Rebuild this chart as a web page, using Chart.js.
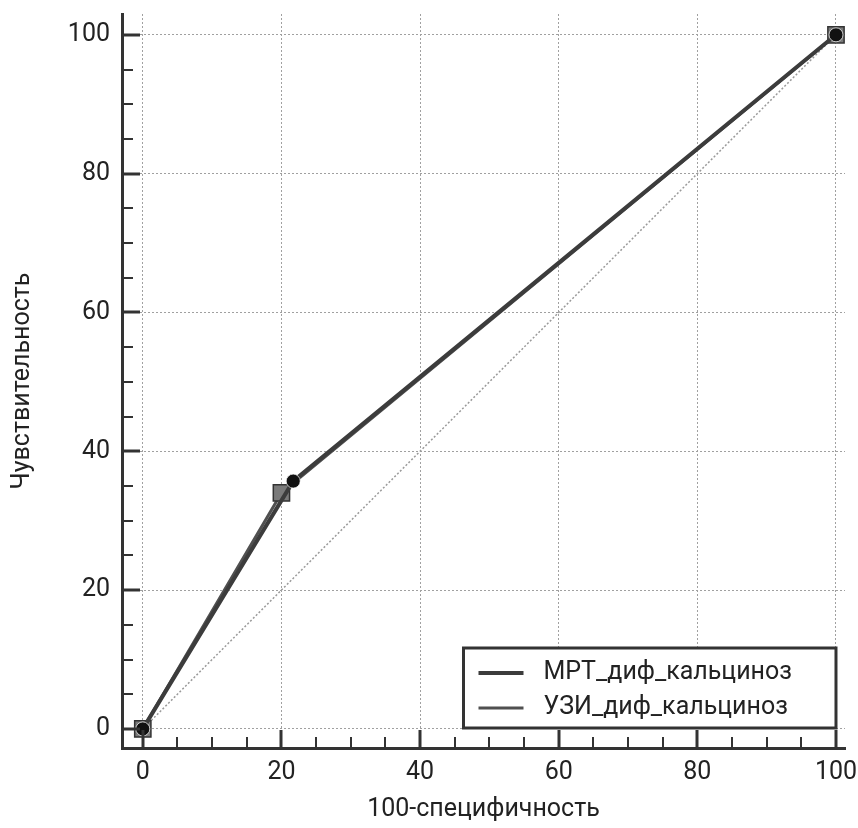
<!DOCTYPE html>
<html>
<head>
<meta charset="utf-8">
<script src="https://cdn.jsdelivr.net/npm/chart.js@4"></script>
<style>
  html, body { margin: 0; padding: 0; background: #ffffff; }
  #wrap { width: 858px; height: 828px; }
</style>
</head>
<body>
<div id="wrap"><canvas id="roc" width="858" height="828"></canvas></div>
<script>
// ROC curves: 100-specificity (x) vs sensitivity (y), in percent
const seriesNames = ['МРТ_диф_кальциноз', 'УЗИ_диф_кальциноз'];
const mrtFpr  = [0, 21.7, 100];
const mrtSens = [0, 35.7, 100];
const uziFpr  = [0, 20, 100];
const uziSens = [0, 34, 100];
const diagFpr  = [0, 100];
const diagSens = [0, 100];
const axisTicks = [0, 20, 40, 60, 80, 100];
const xTitle = '100-специфичность';
const yTitle = 'Чувствительность';

const FONT = 'Roboto';
const TEXT = '#222222';
const AXIS = '#333333';

const toPoints = (xs, ys) => xs.map((x, i) => ({ x: x, y: ys[i] }));

// Inward tick marks along both axes (major every 20, minor every 5)
const innerTicks = {
  id: 'innerTicks',
  afterDraw(chart) {
    const { ctx, chartArea, scales } = chart;
    ctx.save();
    ctx.strokeStyle = AXIS;
    for (let v = 0; v <= 100; v += 5) {
      const major = v % 20 === 0;
      ctx.lineWidth = major ? 3 : 2;
      const len = major ? 18 : 11;
      const px = Math.round(scales.x.getPixelForValue(v));
      ctx.beginPath();
      ctx.moveTo(px, chartArea.bottom);
      ctx.lineTo(px, chartArea.bottom - len);
      ctx.stroke();
      const py = Math.round(scales.y.getPixelForValue(v));
      ctx.beginPath();
      ctx.moveTo(chartArea.left, py);
      ctx.lineTo(chartArea.left + len, py);
      ctx.stroke();
    }
    ctx.restore();
  }
};

// Boxed legend in the lower-right corner of the plot
const boxLegend = {
  id: 'boxLegend',
  afterDraw(chart) {
    const { ctx, chartArea, scales } = chart;
    const items = chart.data.datasets.filter(d => d.inLegend);
    ctx.save();
    ctx.font = '25px ' + FONT;
    const textW = Math.max(...items.map(d => ctx.measureText(d.label).width));
    const padL = 15, lineLen = 45, gap = 20, padR = 44, rowH = 35;
    const w = padL + lineLen + gap + textW + padR;
    const h = 80;
    const right = scales.x.getPixelForValue(100);
    const bottom = chartArea.bottom - 20;
    const left = right - w, top = bottom - h;
    ctx.fillStyle = '#ffffff';
    ctx.fillRect(left, top, w, h);
    ctx.lineWidth = 3;
    ctx.strokeStyle = AXIS;
    ctx.strokeRect(left, top, w, h);
    items.forEach((d, i) => {
      const cy = top + 25 + i * rowH;
      ctx.strokeStyle = d.borderColor;
      ctx.lineWidth = d.legendWidth;
      ctx.beginPath();
      ctx.moveTo(left + padL, cy);
      ctx.lineTo(left + padL + lineLen, cy);
      ctx.stroke();
      ctx.fillStyle = TEXT;
      ctx.textBaseline = 'middle';
      ctx.textAlign = 'left';
      ctx.fillText(d.label, left + padL + lineLen + gap, cy);
    });
    ctx.restore();
  }
};

new Chart(document.getElementById('roc'), {
  type: 'scatter',
  data: {
    datasets: [
      {
        label: seriesNames[0],
        inLegend: true,
        legendWidth: 4,
        data: toPoints(mrtFpr, mrtSens),
        showLine: true,
        borderColor: '#3c3c3c',
        borderWidth: 4,
        pointStyle: 'circle',
        pointRadius: 7,
        pointBackgroundColor: '#111111',
        pointBorderColor: 'rgba(255,255,255,0.7)',
        pointBorderWidth: 1,
        order: 1
      },
      {
        label: seriesNames[1],
        inLegend: true,
        legendWidth: 3,
        data: toPoints(uziFpr, uziSens),
        showLine: true,
        borderColor: '#505050',
        borderWidth: 3,
        pointStyle: 'rect',
        pointRadius: 11.5,
        pointBackgroundColor: '#7a7a7a',
        pointBorderColor: '#333333',
        pointBorderWidth: 1.5,
        order: 2
      },
      {
        label: 'diag',
        inLegend: false,
        data: toPoints(diagFpr, diagSens),
        showLine: true,
        borderColor: '#9a9a9a',
        borderWidth: 1.5,
        borderDash: [2, 2],
        pointRadius: 0,
        order: 3
      }
    ]
  },
  options: {
    responsive: false,
    animation: false,
    devicePixelRatio: 1,
    layout: { padding: { top: 14, right: 2, left: 0, bottom: 0 } },
    plugins: {
      legend: { display: false },
      tooltip: { enabled: false }
    },
    scales: {
      x: {
        type: 'linear',
        min: -3,
        max: 101.3,
        afterBuildTicks: s => { s.ticks = axisTicks.map(v => ({ value: v })); },
        afterFit: s => { s.height = 80; s.paddingLeft = 0; s.paddingRight = 0; },
        grid: { color: '#a0a0a0', lineWidth: 1, drawTicks: false },
        border: { display: true, color: AXIS, width: 3, dash: [2, 2] },
        ticks: { color: TEXT, font: { family: FONT, size: 25 }, padding: 10, maxRotation: 0 },
        title: {
          display: true, text: xTitle, color: TEXT,
          font: { family: FONT, size: 25, lineHeight: 1.2 },
          padding: { top: 0, bottom: 3 }
        }
      },
      y: {
        type: 'linear',
        min: -2.75,
        max: 103,
        afterBuildTicks: s => { s.ticks = axisTicks.map(v => ({ value: v })); },
        afterFit: s => { s.width = 122; s.paddingTop = 0; s.paddingBottom = 0; },
        grid: { color: '#a0a0a0', lineWidth: 1, drawTicks: false },
        border: { display: true, color: AXIS, width: 3, dash: [2, 2] },
        ticks: { color: TEXT, font: { family: FONT, size: 25 }, padding: 12 },
        title: {
          display: true, text: yTitle, color: TEXT,
          font: { family: FONT, size: 25, lineHeight: 1.2 },
          padding: { top: 8, bottom: 0 }
        }
      }
    }
  },
  plugins: [innerTicks, boxLegend]
});
</script>
</body>
</html>
